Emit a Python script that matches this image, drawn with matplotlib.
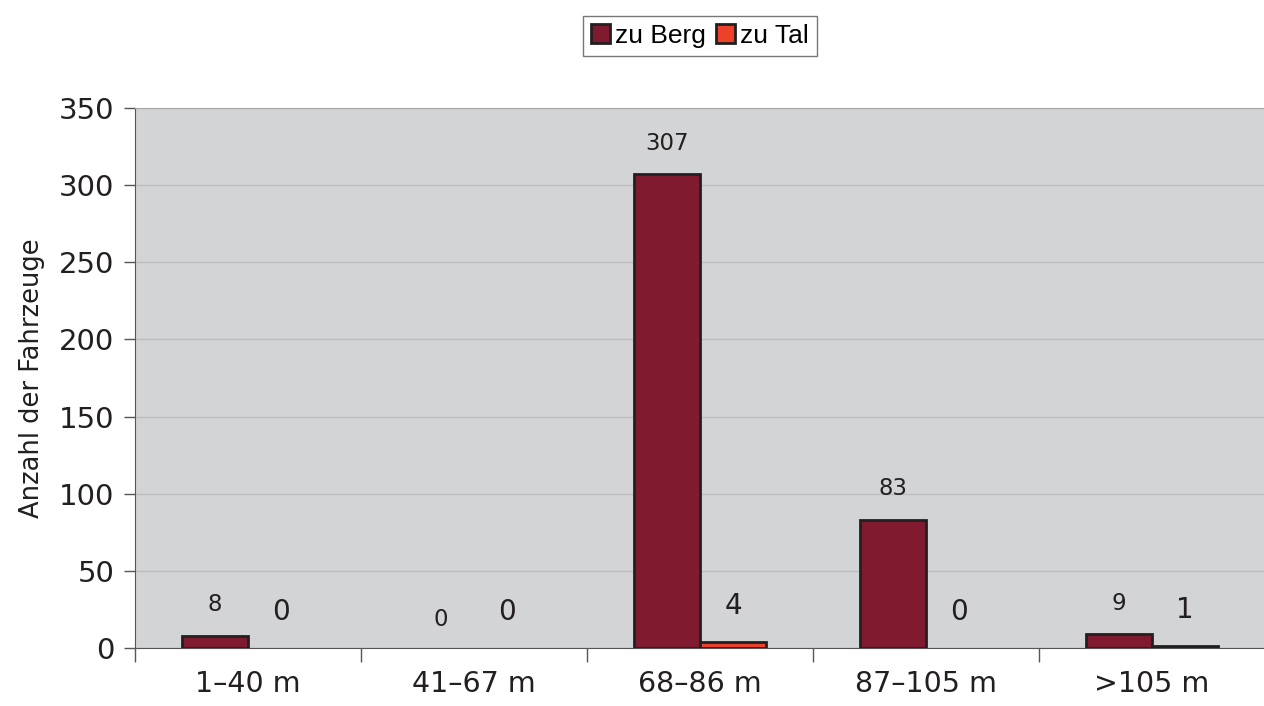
import numpy as np
import matplotlib
matplotlib.use("Agg")
import matplotlib.pyplot as plt
from matplotlib.patches import Patch

# data
categories = ["1\u201340 m", "41\u201367 m", "68\u201386 m", "87\u2013105 m", ">105 m"]
zu_berg = [8, 0, 307, 83, 9]
zu_tal = [0, 0, 4, 0, 1]

berg_color = "#7f1a2f"
tal_color = "#ee4129"
edge = "#231f20"

fig = plt.figure(figsize=(12.64, 7.06), dpi=100)
ax = fig.add_axes([135 / 1264, 58 / 706, 1130 / 1264, 540 / 706])
ax.set_facecolor("#d3d4d6")

x = np.arange(len(categories))
w = 0.292
b1 = ax.bar(x - w / 2, zu_berg, w, color=berg_color, edgecolor=edge,
            linewidth=[2 if v else 0 for v in zu_berg], zorder=3)
b2 = ax.bar(x + w / 2, zu_tal, w, color=tal_color, edgecolor=edge,
            linewidth=[2 if v else 0 for v in zu_tal], zorder=3)

for rect, v in zip(b1, zu_berg):
    ax.annotate(str(v), (rect.get_x() + rect.get_width() / 2, v), xytext=(0, 14 if v else 12),
                textcoords="offset points", ha="center", va="bottom", fontsize=16.5, color="#231f20")
for rect, v in zip(b2, zu_tal):
    ax.annotate(str(v), (rect.get_x() + rect.get_width() / 2, v), xytext=(0, 16),
                textcoords="offset points", ha="center", va="bottom", fontsize=20, color="#231f20")

ax.set_xlim(-0.5, len(categories) - 0.5)
ax.set_ylim(0, 350)
ax.set_yticks(range(0, 351, 50))
ax.yaxis.grid(True, color="#bcbdbf", linewidth=1, zorder=0)
ax.set_axisbelow(True)

# ticks between groups, labels at group centres
ax.set_xticks(np.arange(-0.5, len(categories), 1))
ax.set_xticklabels([])
ax.set_xticks(x, minor=True)
ax.set_xticklabels(categories, minor=True, fontsize=20.5, color="#231f20")
ax.tick_params(axis="x", which="major", length=10, width=1, color="#555555")
ax.tick_params(axis="x", which="minor", length=0, pad=16)
ax.tick_params(axis="y", length=8, width=1, color="#555555", labelsize=21, labelcolor="#231f20", pad=7)

ax.spines["left"].set_color("#555555")
ax.spines["bottom"].set_color("#555555")
ax.spines["top"].set_color("#a6a7a9")
ax.spines["right"].set_visible(False)

ax.set_ylabel("Anzahl der Fahrzeuge", fontsize=18.5, color="#231f20", labelpad=10)

handles = [Patch(facecolor=berg_color, edgecolor=edge, linewidth=2, label="zu Berg"),
           Patch(facecolor=tal_color, edgecolor=edge, linewidth=2, label="zu Tal")]
leg = ax.legend(handles=handles, loc="upper center", bbox_to_anchor=(0.5, 1.195), ncol=2, frameon=True,
                fancybox=False, prop={"family": "Liberation Sans", "size": 19}, handlelength=0.7,
                handleheight=0.7, handletextpad=0.2, columnspacing=0.4, borderpad=0.3)
leg.get_frame().set_edgecolor("#555555")
leg.get_frame().set_linewidth(1)

fig.savefig("out.png", dpi=100)
